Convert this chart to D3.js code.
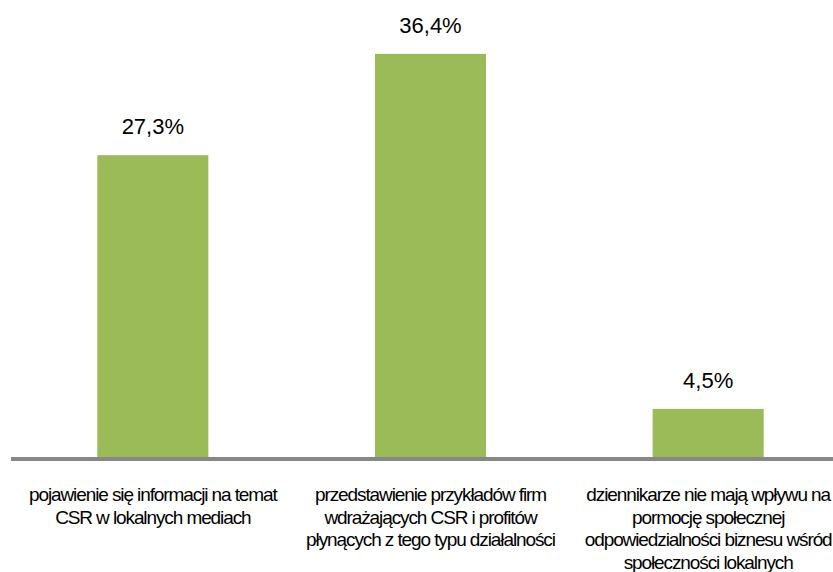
<!DOCTYPE html>
<html>
<head>
<meta charset="utf-8">
<script src="https://cdn.jsdelivr.net/npm/d3@7"></script>
<style>
  html, body { margin: 0; padding: 0; background: #fff; }
  svg { display: block; }
</style>
</head>
<body>
<svg id="chart" width="833" height="572"></svg>
<script>
const categories = [
  "pojawienie się informacji na temat CSR w lokalnych mediach",
  "przedstawienie przykładów firm wdrażających CSR i profitów płynących z tego typu działalności",
  "dziennikarze nie mają wpływu na pormocję społecznej odpowiedzialności biznesu wśród społeczności lokalnych"
];
const categoryLines = [
  ["pojawienie się informacji na temat", "CSR w lokalnych mediach"],
  ["przedstawienie przykładów firm", "wdrażających CSR i profitów", "płynących z tego typu działalności"],
  ["dziennikarze nie mają wpływu na", "pormocję społecznej", "odpowiedzialności biznesu wśród", "społeczności lokalnych"]
];
const values = [27.3, 36.4, 4.5];
const valueLabels = ["27,3%", "36,4%", "4,5%"];

const svg = d3.select("#chart");
const W = 833, H = 572;

const x = d3.scaleBand()
  .domain(categories)
  .range([14, 847])
  .paddingInner(0.6)
  .paddingOuter(0.3);

const y = d3.scaleLinear()
  .domain([0, 41.24])
  .range([459, 0]);

// bars
svg.append("g").selectAll("rect")
  .data(values)
  .join("rect")
  .attr("x", (d, i) => x(categories[i]))
  .attr("width", x.bandwidth())
  .attr("y", d => y(d))
  .attr("height", d => y(0) - y(d))
  .attr("fill", "#9BBB59");

// value labels
svg.append("g").selectAll("text")
  .data(values)
  .join("text")
  .attr("x", (d, i) => x(categories[i]) + x.bandwidth() / 2)
  .attr("y", d => y(d) - 21)
  .attr("text-anchor", "middle")
  .attr("font-family", "'Liberation Sans', Arial, sans-serif")
  .attr("font-size", 22)
  .attr("fill", "#000")
  .text((d, i) => valueLabels[i]);

// x axis baseline
const axis = d3.axisBottom(x).tickSize(0).tickFormat("");
const axisG = svg.append("g")
  .attr("transform", `translate(0,${y(0)})`)
  .call(axis);
axisG.select(".domain")
  .attr("d", `M11,0H${W}`)
  .attr("stroke", "#878787")
  .attr("stroke-width", 4);

// category labels
const catG = svg.append("g");
categories.forEach((c, i) => {
  const t = catG.append("text")
    .attr("x", x(c) + x.bandwidth() / 2)
    .attr("y", 501)
    .attr("text-anchor", "middle")
    .attr("font-family", "'Liberation Sans', Arial, sans-serif")
    .attr("font-size", 19)
    .attr("letter-spacing", "-1.1px")
    .attr("fill", "#000");
  categoryLines[i].forEach((line, j) => {
    t.append("tspan")
      .attr("x", x(c) + x.bandwidth() / 2)
      .attr("dy", j === 0 ? 0 : 22.6)
      .text(line);
  });
});
</script>
</body>
</html>
